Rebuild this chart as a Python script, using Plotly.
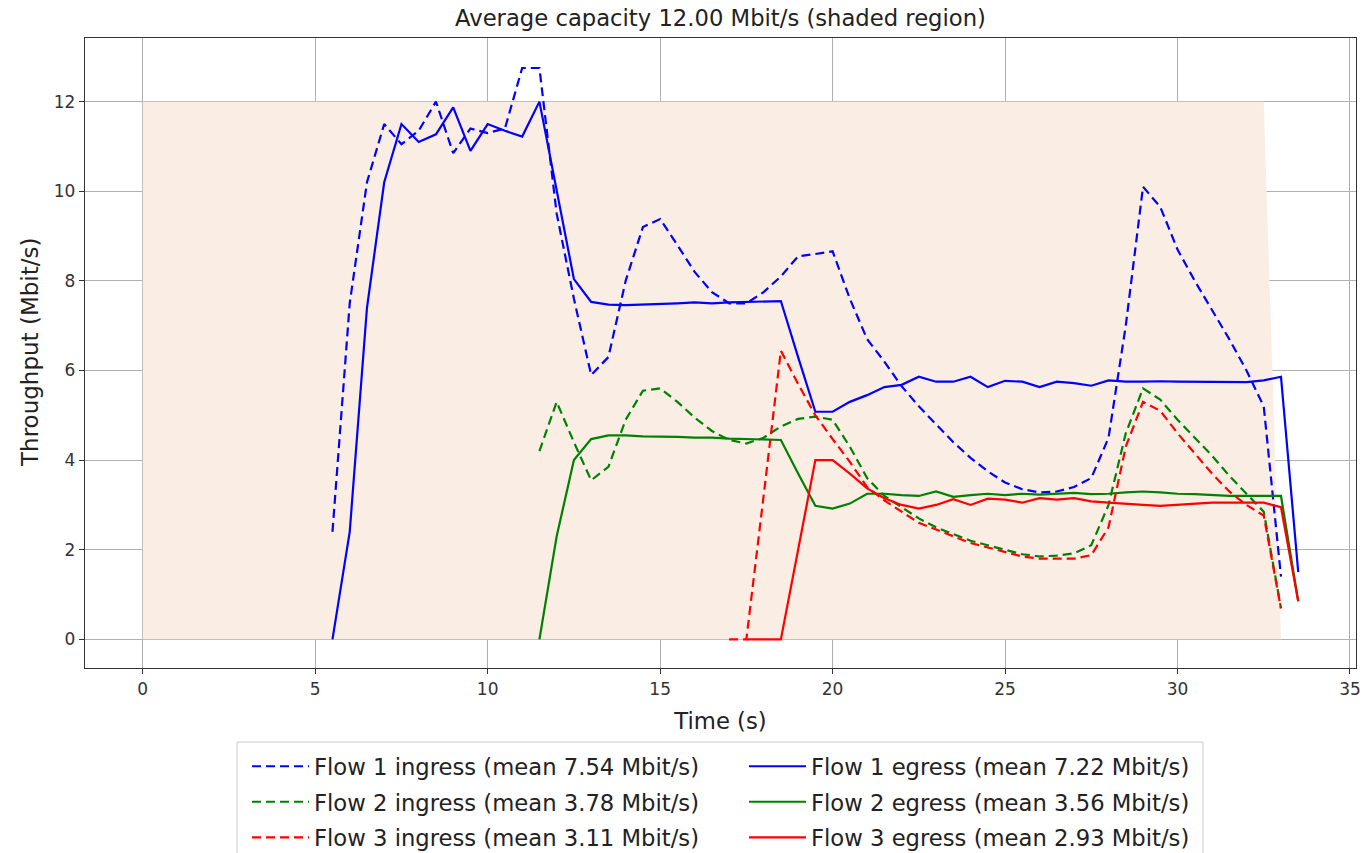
import plotly.graph_objects as go

# ---------------- data ----------------
capacity_t = [0.0, 32.5, 33.0]
capacity = [12.0, 12.0, 0.0]

f1_in_start = 5.5
f1_in = [2.4, 7.5, 10.2, 11.5, 11.05, 11.35, 12.0, 10.85, 11.4, 11.3, 11.4, 12.75, 12.75,
         9.5, 7.6, 5.9, 6.3, 8.0, 9.2, 9.38, 8.8, 8.2, 7.75, 7.5, 7.5, 7.75, 8.1, 8.55, 8.6,
         8.66, 7.6, 6.7, 6.2, 5.65, 5.2, 4.8, 4.4, 4.05, 3.75, 3.5, 3.35, 3.28, 3.3, 3.4, 3.6,
         4.5, 7.0, 10.1, 9.65, 8.7, 8.0, 7.35, 6.7, 6.0, 5.2, 1.4]

f1_eg_start = 5.5
f1_eg = [0.0, 2.4, 7.4, 10.2, 11.5, 11.1, 11.27, 11.87, 10.9, 11.5, 11.35, 11.22, 12.0,
         10.0, 8.04, 7.53, 7.47, 7.46, 7.47, 7.48, 7.5, 7.52, 7.5, 7.52, 7.53, 7.55, 7.55,
         6.3, 5.08, 5.08, 5.3, 5.45, 5.63, 5.68, 5.86, 5.75, 5.75, 5.86, 5.63, 5.77, 5.75,
         5.63, 5.75, 5.72, 5.66, 5.78, 5.75, 5.75, 5.76, 5.75, 5.75, 5.75, 5.75, 5.74, 5.78,
         5.86, 1.5]

f2_in_start = 11.5
f2_in = [4.2, 5.3, 4.4, 3.55, 3.85, 4.9, 5.55, 5.6, 5.3, 4.95, 4.65, 4.45, 4.37, 4.5, 4.75,
         4.92, 4.97, 4.9, 4.3, 3.6, 3.2, 2.95, 2.7, 2.5, 2.35, 2.2, 2.1, 2.0, 1.9, 1.85, 1.87,
         1.92, 2.1, 3.0, 4.6, 5.6, 5.35, 4.9, 4.5, 4.1, 3.65, 3.25, 2.85, 0.7]

f2_eg_start = 11.5
f2_eg = [0.0, 2.3, 4.0, 4.47, 4.55, 4.55, 4.53, 4.53, 4.52, 4.5, 4.5, 4.48, 4.47, 4.45, 4.45,
         3.7, 2.98, 2.92, 3.03, 3.25, 3.25, 3.22, 3.2, 3.3, 3.18, 3.22, 3.25, 3.22, 3.25, 3.23,
         3.25, 3.27, 3.24, 3.25, 3.28, 3.3, 3.28, 3.25, 3.24, 3.22, 3.2, 3.2, 3.2, 3.2, 0.85]

f3_in_start = 17.0
f3_in = [0.0, 0.0, 3.2, 6.44, 5.7, 5.0, 4.47, 3.96, 3.4, 3.1, 2.85, 2.6, 2.45, 2.3, 2.15,
         2.05, 1.95, 1.85, 1.8, 1.8, 1.8, 1.88, 2.5, 4.3, 5.3, 5.1, 4.6, 4.15, 3.7, 3.3, 3.0,
         2.76, 0.69]

f3_eg_start = 17.5
f3_eg = [0.0, 0.0, 0.0, 2.0, 4.0, 4.0, 3.7, 3.37, 3.15, 3.0, 2.92, 3.0, 3.13, 3.0, 3.14,
         3.12, 3.05, 3.15, 3.12, 3.15, 3.08, 3.05, 3.02, 3.0, 2.98, 3.0, 3.03, 3.05, 3.05,
         3.05, 3.05, 2.95, 0.85]

names = [
    "Flow 1 ingress (mean 7.54 Mbit/s)", "Flow 1 egress (mean 7.22 Mbit/s)",
    "Flow 2 ingress (mean 3.78 Mbit/s)", "Flow 2 egress (mean 3.56 Mbit/s)",
    "Flow 3 ingress (mean 3.11 Mbit/s)", "Flow 3 egress (mean 2.93 Mbit/s)",
]
x_ticks = [0, 5, 10, 15, 20, 25, 30, 35]
y_ticks = [0, 2, 4, 6, 8, 10, 12]
# --------------------------------------


def times(start, vals):
    return [start + 0.5 * i for i in range(len(vals))]


series = [
    (f1_in_start, f1_in, "#0000ff", True),
    (f1_eg_start, f1_eg, "#0000ff", False),
    (f2_in_start, f2_in, "#008000", True),
    (f2_eg_start, f2_eg, "#008000", False),
    (f3_in_start, f3_in, "#ff0000", True),
    (f3_eg_start, f3_eg, "#ff0000", False),
]

W, H = 1363, 853
ML, MR, MT, MB = 85, 7, 38, 185
PW, PH = W - ML - MR, H - MT - MB


def px_x(px):
    return (px - ML) / PW


def px_y(py):
    return (H - MB - py) / PH


fig = go.Figure()

fig.add_trace(go.Scatter(
    x=capacity_t, y=capacity, mode="lines", fill="tozeroy",
    fillcolor="#FAEEE4", line=dict(width=0, color="#FAEEE4"),
    showlegend=False, hoverinfo="skip",
))

for i, ((start, vals, color, dashed), name) in enumerate(zip(series, names)):
    fig.add_trace(go.Scatter(
        x=times(start, vals), y=vals, mode="lines", name=name,
        legend="legend" if dashed else "legend2", legendgroup="g%d" % i,
        line=dict(color=color, width=2.2, dash="9px,5px" if dashed else "solid"),
    ))

axis_common = dict(
    showgrid=True, gridcolor="#b0b0b0", gridwidth=1,
    zeroline=False, showline=True, linecolor="#333333", linewidth=1.3,
    mirror=True, ticks="outside", ticklen=5, tickcolor="#333333",
    tickfont=dict(family="DejaVu Sans", size=17, color="#333333"),
)

legend_common = dict(
    orientation="v", yanchor="top", xanchor="left",
    xref="container", yref="container",
    font=dict(family="DejaVu Sans", size=22.7, color="#222222"),
    borderwidth=0, bgcolor="rgba(0,0,0,0)",
    tracegroupgap=3, itemwidth=57,
)

fig.update_layout(
    width=W, height=H,
    margin=dict(l=ML, r=MR, t=MT, b=MB, autoexpand=False),
    paper_bgcolor="white", plot_bgcolor="white",
    font=dict(family="DejaVu Sans", color="#222222"),
    title=dict(text="Average capacity 12.00 Mbit/s (shaded region)",
               x=0.5, xanchor="center", xref="paper",
               y=1 - 18 / H, yanchor="middle", yref="container",
               font=dict(family="DejaVu Sans", size=22.7, color="#222222")),
    xaxis=dict(range=[-1.675, 35.175], tickvals=x_ticks,
               title=dict(text="Time (s)", font=dict(size=22.7, family="DejaVu Sans")),
               **axis_common),
    yaxis=dict(range=[-0.639, 13.42], tickvals=y_ticks, **axis_common),
    annotations=[dict(text="Throughput (Mbit/s)", textangle=-90,
                      xref="paper", yref="paper", x=px_x(30), y=px_y(353),
                      xanchor="center", yanchor="middle", showarrow=False,
                      font=dict(family="DejaVu Sans", size=23, color="#222222"))],
    legend=dict(x=247 / W, y=1 - 745 / H, **legend_common),
    legend2=dict(x=744 / W, y=1 - 745 / H, **legend_common),
    showlegend=True,
    shapes=[dict(type="rect", xref="paper", yref="paper",
                 x0=px_x(237), x1=px_x(1203), y0=px_y(870), y1=px_y(742),
                 line=dict(color="#cccccc", width=1), fillcolor="rgba(0,0,0,0)",
                 layer="below")],
)

fig.write_html("out.html")
